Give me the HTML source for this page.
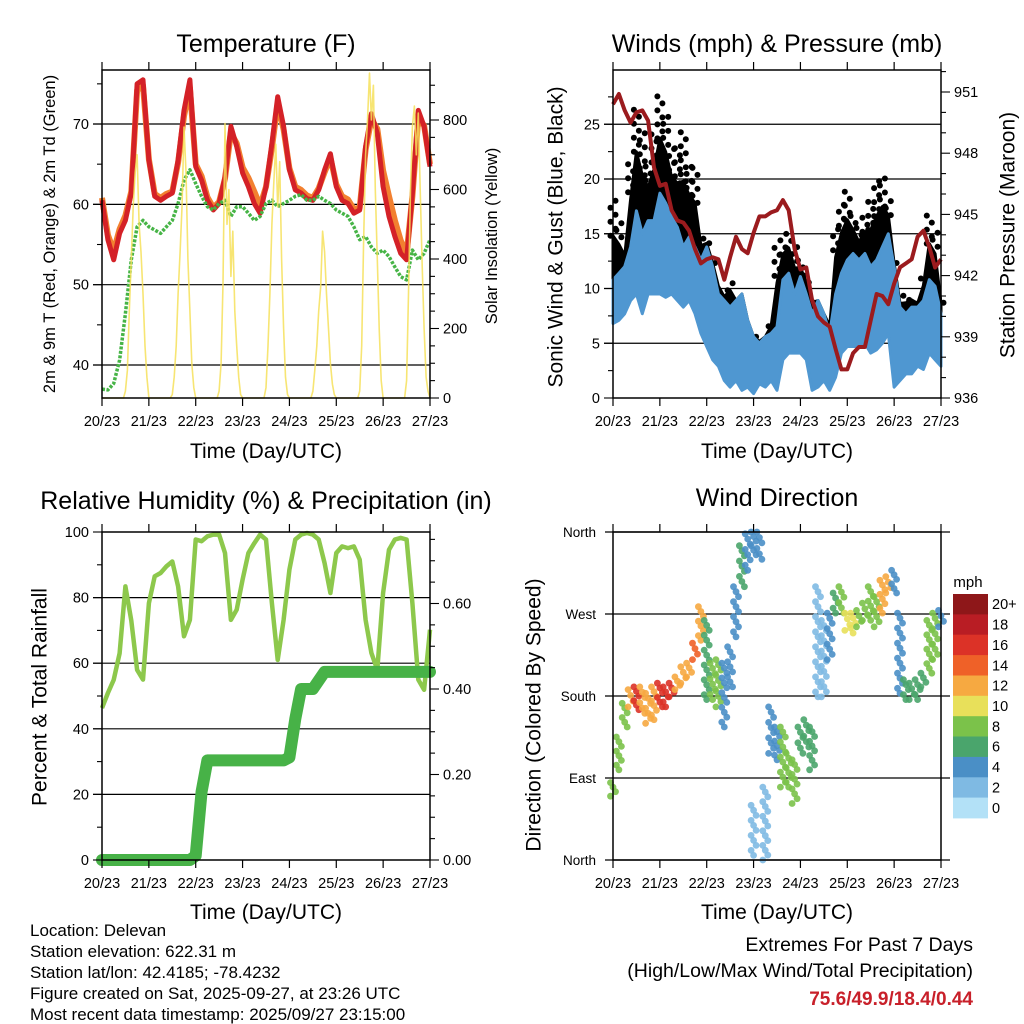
<!DOCTYPE html>
<html><head><meta charset="utf-8"><title>Delevan station meteogram</title>
<style>
html,body{margin:0;padding:0;background:#fff;}
svg{display:block;font-family:"Liberation Sans",Arial,sans-serif;}
</style></head>
<body>
<svg id="chart" width="1024" height="1024" viewBox="0 0 1024 1024" xmlns="http://www.w3.org/2000/svg">
<rect x="0" y="0" width="1024" height="1024" fill="#fff"/>
<text x="266" y="52" font-size="25" text-anchor="middle">Temperature (F)</text>
<text x="777" y="52" font-size="25" text-anchor="middle">Winds (mph) &amp; Pressure (mb)</text>
<text x="266" y="509" font-size="25" text-anchor="middle">Relative Humidity (%) &amp; Precipitation (in)</text>
<text x="777" y="506" font-size="25" text-anchor="middle">Wind Direction</text>
<text transform="translate(50,234) rotate(-90)" font-size="16.5" text-anchor="middle" dominant-baseline="central">2m &amp; 9m T (Red, Orange) &amp; 2m Td (Green)</text>
<text transform="translate(492,236) rotate(-90)" font-size="16.5" text-anchor="middle" dominant-baseline="central">Solar Insolation (Yellow)</text>
<text transform="translate(556,237) rotate(-90)" font-size="21" text-anchor="middle" dominant-baseline="central">Sonic Wind &amp; Gust (Blue, Black)</text>
<text transform="translate(1008,235) rotate(-90)" font-size="21" text-anchor="middle" dominant-baseline="central">Station Pressure (Maroon)</text>
<text transform="translate(40,697) rotate(-90)" font-size="21" text-anchor="middle" dominant-baseline="central">Percent &amp; Total Rainfall</text>
<text transform="translate(534,715) rotate(-90)" font-size="21" text-anchor="middle" dominant-baseline="central">Direction (Colored By Speed)</text>
<text x="266" y="458" font-size="21" text-anchor="middle">Time (Day/UTC)</text>
<text x="777" y="458" font-size="21" text-anchor="middle">Time (Day/UTC)</text>
<text x="266" y="919" font-size="21" text-anchor="middle">Time (Day/UTC)</text>
<text x="777" y="919" font-size="21" text-anchor="middle">Time (Day/UTC)</text>
<g font-size="17">
<text x="30" y="936">Location: Delevan</text>
<text x="30" y="957">Station elevation: 622.31 m</text>
<text x="30" y="978">Station lat/lon: 42.4185; -78.4232</text>
<text x="30" y="999">Figure created on Sat, 2025-09-27, at 23:26 UTC</text>
<text x="30" y="1020">Most recent data timestamp: 2025/09/27 23:15:00</text>
</g>
<text x="973" y="951" font-size="19.5" text-anchor="end">Extremes For Past 7 Days</text>
<text x="973" y="977" font-size="19.5" text-anchor="end">(High/Low/Max Wind/Total Precipitation)</text>
<text x="973" y="1005" font-size="19" font-weight="bold" fill="#c8202a" text-anchor="end">75.6/49.9/18.4/0.44</text>
<text x="968" y="587" font-size="15" text-anchor="middle">mph</text>
</svg>
<script>
// ---------- data ----------
const hours3 = [0,3,6,9,12,15,18,21,24,27,30,33,36,39,42,45,48,51,54,57,60,63,66,69,72,75,78,81,84,87,90,93,96,99,102,105,108,111,114,117,120,123,126,129,132,135,138,141,144,147,150,153,156,159,162,165,168];
const dayLabels = ["20/23","21/23","22/23","23/23","24/23","25/23","26/23","27/23"];
const temp2m = [60.5,55.6,53.1,56.4,58,61.4,75,75.5,65.5,61,60.5,61,61.4,65.5,71.7,75.5,64.7,63,60.5,59.3,60.1,63.4,69.7,67.2,63.9,62.2,60.1,58.9,62.2,67.6,73.4,69.7,64.3,61.8,61.4,60.7,60.5,61.8,64.3,66.3,62.2,60.5,60.1,58.9,59.3,67.2,71.3,68.8,62.2,58.5,56,53.9,53.1,61.4,71.7,69.7,64.7];
const temp9m = [60.8,56.2,54.2,56.9,58.6,61.6,74.2,74.8,65.6,61.3,60.8,61.3,61.6,65.2,71,74.5,65,63.5,60.9,59.6,60.3,63.2,68.9,67.6,64.6,63.3,61.6,59.8,62.2,67,72.6,69.3,64.5,62.2,61.8,61.1,60.8,62,64,65.8,62.5,61,60.6,59.4,59.6,66.8,70.6,69.4,64.2,61,58,55.5,53.8,61,70.8,69.8,65];
const dewpt = [37,36.9,37.7,40.6,46.4,53.1,57.2,58,57.2,56.8,56.4,57.2,58,60.1,63,64.3,62.6,61,59.7,59.3,60.1,60.5,58.5,59.7,59.7,58.9,58,58.5,60.1,60.5,59.7,60.1,60.5,61,61.2,60.5,60.5,61,60.5,60.1,59.3,58.9,58.5,57.2,55.6,56,54.7,53.9,54.3,53.5,52.2,51,50.6,54.3,53.1,53.9,55.6];
const solar = [0,0,0,0,0,0,0,0,0,0,0,0,
 20,80,250,400,550,650,700,500,420,300,150,60,
 0,0,0,0,0,0,0,0,0,0,0,0,
 10,60,150,300,420,550,780,650,400,250,100,30,
 0,0,0,0,0,0,0,0,0,0,0,0,
 20,100,330,790,500,600,350,480,250,150,60,10,
 0,0,0,0,0,0,0,0,0,0,0,0,
 30,150,300,500,620,730,550,680,400,200,60,10,
 0,0,0,0,0,0,0,0,0,0,0,0,
 20,80,150,250,320,480,420,300,200,100,40,10,
 0,0,0,0,0,0,0,0,0,0,0,0,
 20,150,450,700,800,935,800,900,600,400,200,50,
 0,0,0,0,0,0,0,0,0,0,0,0,
 50,300,600,780,840,700,820,600,380,200,60,20,
 0];
const windHigh = [10.8,11.4,12.0,13.8,17.1,15.0,16.2,16.2,18.7,17.8,16.5,15.6,13.8,14.7,13.8,12.6,13.8,12.0,9.5,8.9,8.3,8.9,9.5,7.1,5.6,5.0,5.6,5.9,6.5,10.8,11.4,9.5,11.1,9.5,7.7,8.9,7.7,5.9,9.5,11.4,12.6,13.2,12.6,13.2,12.0,12.6,13.8,15.0,12.0,8.3,7.7,8.3,8.3,8.9,10.8,10.2,7.7];
const windLow = [6.8,7.1,7.7,8.9,9.5,7.7,9.5,9.5,9.5,9.2,9.5,8.9,8.3,8.9,7.7,5.9,4.7,3.5,2.9,1.6,1.0,1.6,0.7,1.0,0.4,1.3,1.0,1.6,0.7,3.5,4.1,4.1,4.1,3.5,0.7,1.0,1.6,0.7,1.9,4.1,4.7,4.7,4.7,5.0,4.1,4.4,5.0,5.9,1.0,1.6,2.2,2.2,2.9,2.6,4.1,3.5,2.9];
const gustHigh = [18.1,16.2,13.8,21.7,26.9,24.7,21.7,24.7,27.8,26.3,23.2,22.9,24.7,21.7,21.1,15.0,14.4,12.6,10.8,9.5,11.1,7.7,5.9,5.6,5.6,5.3,5.6,7.1,13.8,15.0,15.6,13.8,12.6,11.4,9.5,7.7,6.5,7.1,15.6,18.1,19.3,17.1,15.6,16.8,18.1,19.9,20.5,18.1,12.6,8.9,9.5,9.5,8.9,11.4,16.8,15.6,9.5];
const pressure = [950.4,950.9,950.1,949.5,950.0,950.1,949.6,947.3,946.4,946.5,945.2,944.7,944.6,944.2,943.3,942.6,942.8,942.9,942.8,941.8,942.9,943.9,943.3,943.1,944.1,944.9,944.9,945.1,945.2,945.7,945.2,943.3,942.3,942.4,940.8,940.0,939.7,939.5,938.4,937.4,937.4,938.2,938.5,938.5,939.8,941.1,941.0,940.6,941.6,942.4,942.6,942.8,943.9,944.2,943.4,942.4,942.8];
const rh = [46.3,50.9,54.9,63,83.4,73,58,55,78.3,86.5,87.5,89.5,91,83.4,68.2,73.2,97.7,97.2,98.7,99.2,99.2,93.6,73.2,76.3,85.5,93.6,96.6,99.2,97.7,78.3,61,73.2,88.5,97.7,99.2,99.7,99.2,97.7,90.5,81.4,93.6,95.6,95.1,95.6,91.6,73.2,63.1,58,81.4,94.6,97.7,98.2,97.7,78.3,55,51.9,70.2];
const precip = [0,0,0,0,0,0,0,0,0,0,0,0,0,0,0,0,0.01,0.16,0.233,0.233,0.233,0.233,0.233,0.233,0.233,0.233,0.233,0.233,0.233,0.233,0.233,0.233,0.24,0.33,0.40,0.40,0.40,0.42,0.44,0.44,0.44,0.44,0.44,0.44,0.44,0.44,0.44,0.44,0.44,0.44,0.44,0.44,0.44,0.44,0.44,0.44,0.44];
const dirHours = [0,3,6,9,12,15,18,21,24,27,30,33,36,39,42,45,48,51,54,57,60,63,66,69,72,72,75,78,81,84,87,90,93,96,99,102,105,108,111,114,117,120,123,126,129,132,135,138,141,144,147,150,153,156,159,162,165,168];
const dirLow  = [70,99,146,168,165,161,150,154,168,168,179,187,194,201,220,241,176,176,168,146,190,245,300,318,5,335,330,0,117,110,80,80,62,117,124,99,179,179,220,271,271,252,249,256,263,263,256,271,293,293,183,176,176,176,190,205,220,256];
const dirHigh = [85,135,172,187,190,190,183,190,194,190,194,201,212,216,238,278,263,216,220,216,234,300,345,358,60,360,360,80,168,146,146,117,110,146,154,146,300,263,271,293,300,271,271,274,282,300,289,307,311,318,271,198,194,198,205,263,271,274];
const dirSpeed = [9,9,8,13,17,12,12,13,17,17,16,13,13,13,14,12,6,8,8,5,5,5,6,5,3,4,4,3,4,5,8,9,8,7,6,6,3,3,4,7,9,10,10,9,8,8,9,12,12,5,4,6,6,7,7,8,8,4];
const speedBins = ["20+","18","16","14","12","10","8","6","4","2","0"];
const speedColors = ["#8e1719","#b91d24","#dc3227","#ef6128","#f6a941","#e8e05a","#7bc24a","#4aa56c","#4a8fc6","#7fbae3","#b3e1f7"];

// ---------- helpers ----------
const NS = 'http://www.w3.org/2000/svg';
const svg = document.getElementById('chart');
function mk(tag, attrs, parent, name) {
  const e = document.createElementNS(NS, tag);
  for (const k in attrs) e.setAttribute(k, attrs[k]);
  
  
  (parent || svg).appendChild(e);
  return e;
}
function txt(x, y, s, attrs, name) {
  const e = mk('text', Object.assign({x: x, y: y, 'font-size': 14.5}, attrs || {}), svg, name);
  e.textContent = s;
  return e;
}
const L1 = 102, R1 = 430, L2 = 613, R2 = 941;
const T1 = 70, B1 = 398, T2 = 532, B2 = 860;
function xs(L) { return h => L + h * 328 / 168; }
const xA = xs(L1), xB = xs(L2);
const yT = v => 365 - (v - 40) * 8.033;
const yS = v => 398 - v * 0.3475;
const yW = v => 398 - v * 10.95;
const yP = p => 398 - (p - 936) * 20.4;
const yR = v => 860 - v * 3.28;
const yPr = v => 860 - v * 427.5;
const yD = d => 860 - d * 328 / 360;

function pathFrom(xsArr, ysArr) {
  return xsArr.map((x, i) => (i ? 'L' : 'M') + x.toFixed(1) + ' ' + ysArr[i].toFixed(1)).join(' ');
}
function gridLine(x1, x2, y, name) {
  mk('line', {x1: x1, x2: x2, y1: y, y2: y, stroke: '#000', 'stroke-width': 1.2}, svg, name);
}
function frame(L, T, R, B, name) {
  mk('rect', {x: L, y: T, width: R - L, height: B - T, fill: 'none', stroke: '#000', 'stroke-width': 1.5}, svg, name);
}
function xTicks(L, T, B, base) {
  for (let d = 0; d < dayLabels.length; d++) {
    const x = L + d * 328 / 7;
    mk('line', {x1: x, x2: x, y1: B, y2: B + 8, stroke: '#000', 'stroke-width': 1.2}, svg, base + '-x-tick');
    mk('line', {x1: x, x2: x, y1: T - 8, y2: T, stroke: '#000', 'stroke-width': 1.2}, svg, base + '-top-tick');
    txt(x, B + 28, dayLabels[d], {'text-anchor': 'middle'}, base + '-x-tick-label');
  }
}
function yTicksLeft(L, vals, scale, len, base) {
  vals.forEach(v => mk('line', {x1: L - len, x2: L, y1: scale(v), y2: scale(v), stroke: '#000', 'stroke-width': 1.1}, svg, base + '-tick'));
}
function yTicksRight(R, vals, scale, len, base) {
  vals.forEach(v => mk('line', {x1: R, x2: R + len, y1: scale(v), y2: scale(v), stroke: '#000', 'stroke-width': 1.1}, svg, base + '-tick'));
}

// ================= Temperature panel =================
const tempTicks = [40, 50, 60, 70];
const tempMinor = [45, 55, 65, 75];
const solarTicks = [0, 200, 400, 600, 800];
tempTicks.forEach(v => gridLine(L1 - 9, R1, yT(v), 'temperature-gridline'));
const gTemp = mk('g', {}, svg, 'temperature-series');
mk('path', {d: pathFrom(hours3.map(xA), temp9m.map(yT)), fill: 'none', stroke: '#f28030', 'stroke-width': 6, 'stroke-linejoin': 'round'}, gTemp, 'temp-9m-line');
mk('path', {d: pathFrom(hours3.map(xA), temp2m.map(yT)), fill: 'none', stroke: '#d42127', 'stroke-width': 5, 'stroke-linejoin': 'round'}, gTemp, 'temp-2m-line');
mk('path', {d: pathFrom(hours3.map(xA), dewpt.map(yT)), fill: 'none', stroke: '#46b446', 'stroke-width': 3.5, 'stroke-dasharray': '3 1.5', 'stroke-linejoin': 'round'}, gTemp, 'dewpoint-line');
mk('path', {d: pathFrom(solar.map((v, i) => xA(i)), solar.map(v => yS(v))), fill: 'none', stroke: '#f6e05a', 'stroke-width': 1.6, 'stroke-opacity': 0.85, 'stroke-linejoin': 'round'}, gTemp, 'solar-line');
frame(L1, T1, R1, B1, 'temperature-frame');
xTicks(L1, T1, B1, 'temperature');
yTicksLeft(L1, tempTicks, yT, 9, 'temperature-major');
yTicksLeft(L1, tempMinor, yT, 5, 'temperature-minor');
tempTicks.forEach(v => txt(L1 - 13, yT(v) + 5, String(v), {'text-anchor': 'end'}, 'temperature-tick-label'));
const solarMinor = [50,100,150,250,300,350,450,500,550,650,700,750,850,900];
yTicksRight(R1, solarTicks, yS, 9, 'solar-major');
yTicksRight(R1, solarMinor, yS, 5, 'solar-minor');
solarTicks.forEach(v => txt(R1 + 13, yS(v) + 5, String(v), {'text-anchor': 'start'}, 'solar-tick-label'));

// ================= Winds panel =================
const windTicks = [0, 5, 10, 15, 20, 25];
const windMinor = [2.5, 7.5, 12.5, 17.5, 22.5, 27.5];
const presTicks = [936, 939, 942, 945, 948, 951];
const presMinor = [937, 938, 940, 941, 943, 944, 946, 947, 949, 950, 952, 953];
windTicks.slice(1).forEach(v => gridLine(L2 - 9, R2, yW(v), 'wind-gridline'));
const gWind = mk('g', {}, svg, 'wind-series');
const gx = hours3.map(xB);
// dense gust band just above sustained wind
const gustMid = gustHigh.map((g, i) => windHigh[i] + 0.55 * Math.max(0, g - windHigh[i]));
mk('path', {d: pathFrom(gx, gustMid.map(yW)) + ' ' + pathFrom(gx.slice().reverse(), windHigh.map(v => yW(v - 1)).reverse()).replace('M', 'L') + ' Z', fill: '#000', stroke: '#000', 'stroke-width': 3, 'stroke-linejoin': 'round'}, gWind, 'gust-band');
// sparse gust dots up to the gust maxima
hours3.forEach((h, i) => {
  const yTop = yW(gustHigh[i]), yBot = yW(gustMid[i]);
  for (let y = yBot; y >= yTop - 0.1; y -= 7) {
    mk('circle', {cx: (gx[i] + ((Math.round(y) % 2) ? 2.5 : -2.5)).toFixed(1), cy: y.toFixed(1), r: 3}, gWind, 'gust-point');
  }
});
mk('path', {d: pathFrom(gx, windHigh.map(yW)) + ' ' + pathFrom(gx.slice().reverse(), windLow.map(yW).reverse()).replace('M', 'L') + ' Z', fill: '#4f97d1', stroke: '#4f97d1', 'stroke-width': 3, 'stroke-linejoin': 'round'}, gWind, 'wind-band');
mk('path', {d: pathFrom(gx, pressure.map(yP)), fill: 'none', stroke: '#9b1b1e', 'stroke-width': 4, 'stroke-linejoin': 'round'}, gWind, 'pressure-line');
frame(L2, T1, R2, B1, 'winds-frame');
xTicks(L2, T1, B1, 'winds');
yTicksLeft(L2, windTicks, yW, 9, 'wind-major');
yTicksLeft(L2, windMinor.filter(v => yW(v) > T1), yW, 5, 'wind-minor');
windTicks.forEach(v => txt(L2 - 13, yW(v) + 5, String(v), {'text-anchor': 'end'}, 'wind-tick-label'));
yTicksRight(R2, presTicks, yP, 9, 'pressure-major');
yTicksRight(R2, presMinor.filter(v => yP(v) > T1), yP, 5, 'pressure-minor');
presTicks.forEach(v => txt(R2 + 13, yP(v) + 5, String(v), {'text-anchor': 'start'}, 'pressure-tick-label'));

// ================= Humidity panel =================
const rhTicks = [0, 20, 40, 60, 80, 100];
const rhMinor = [10, 30, 50, 70, 90];
const prTicks = [0, 0.2, 0.4, 0.6];
const prLabels = ["0.00", "0.20", "0.40", "0.60"];
const prMinor = [0.05,0.1,0.15,0.25,0.3,0.35,0.45,0.5,0.55,0.65,0.7,0.75];
[20, 40, 60, 80].forEach(v => gridLine(L1 - 9, R1, yR(v), 'humidity-gridline'));
const gRh = mk('g', {}, svg, 'humidity-series');
mk('path', {d: pathFrom(hours3.map(xA), rh.map(yR)), fill: 'none', stroke: '#8dc84c', 'stroke-width': 4.5, 'stroke-linejoin': 'round'}, gRh, 'humidity-line');
mk('path', {d: pathFrom(hours3.map(xA), precip.map(yPr)), fill: 'none', stroke: '#47b247', 'stroke-width': 12, 'stroke-linejoin': 'round', 'stroke-linecap': 'round'}, gRh, 'precip-line');
frame(L1, T2, R1, B2, 'humidity-frame');
xTicks(L1, T2, B2, 'humidity');
yTicksLeft(L1, rhTicks, yR, 9, 'humidity-major');
yTicksLeft(L1, rhMinor, yR, 5, 'humidity-minor');
rhTicks.forEach(v => txt(L1 - 13, yR(v) + 5, String(v), {'text-anchor': 'end'}, 'humidity-tick-label'));
yTicksRight(R1, prTicks, yPr, 9, 'precip-major');
yTicksRight(R1, prMinor, yPr, 5, 'precip-minor');
prTicks.forEach((v, i) => txt(R1 + 13, yPr(v) + 5, prLabels[i], {'text-anchor': 'start'}, 'precip-tick-label'));

// ================= Wind direction panel =================
const dirTicks = [0, 90, 180, 270, 360];
const dirLabels = ["North", "East", "South", "West", "North"];
dirTicks.forEach(v => gridLine(L2 - 8, R2 + 9, yD(v), 'direction-gridline'));
function colorFor(s) {
  const idx = Math.min(10, Math.max(0, 10 - Math.floor(s / 2)));
  return speedColors[idx];
}
const gDir = mk('g', {}, svg, 'direction-points');
dirHours.forEach((h, i) => {
  const x = xB(h);
  const y1 = yD(dirHigh[i]), y2 = yD(dirLow[i]);
  const n = Math.max(1, Math.round((y2 - y1) / 5));
  for (let k = 0; k <= n; k++) {
    const y = y1 + (y2 - y1) * k / n;
    mk('circle', {cx: (x + ((k % 3) - 1) * 2.5).toFixed(1), cy: y.toFixed(1), r: 3.4, fill: colorFor(dirSpeed[i]), 'fill-opacity': 0.9}, gDir, 'direction-point');
  }
});
frame(L2, T2, R2, B2, 'direction-frame');
xTicks(L2, T2, B2, 'direction');
dirTicks.forEach((v, i) => txt(L2 - 17, yD(v) + 5, dirLabels[i], {'text-anchor': 'end', 'font-size': 13.5}, 'direction-tick-label'));

// colorbar
const cbTop = 594, cbH = 224 / 11;
speedBins.forEach((lab, i) => {
  mk('rect', {x: 953, y: (cbTop + i * cbH).toFixed(1), width: 35, height: (cbH + 0.4).toFixed(1), fill: speedColors[i]}, svg, 'colorbar-box');
  txt(992, cbTop + i * cbH + cbH / 2 + 5, lab, {'text-anchor': 'start'}, 'colorbar-label');
});
</script>
</body></html>
